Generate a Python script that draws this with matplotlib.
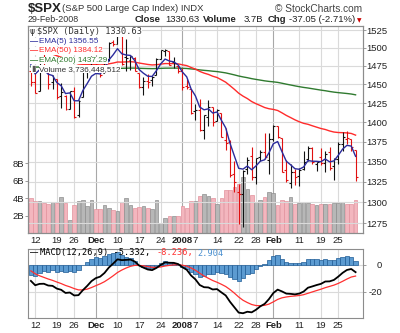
import numpy as np
import pandas as pd
import matplotlib
matplotlib.use("Agg")
import matplotlib.pyplot as plt
from matplotlib.ticker import FixedLocator, FixedFormatter, NullLocator

# daily bars, 9-Nov-2007 .. 29-Feb-2008
dates = ["2007-11-09", "2007-11-12", "2007-11-13", "2007-11-14", "2007-11-15", "2007-11-16",
         "2007-11-19", "2007-11-20", "2007-11-21", "2007-11-23", "2007-11-26", "2007-11-27",
         "2007-11-28", "2007-11-29", "2007-11-30", "2007-12-03", "2007-12-04", "2007-12-05",
         "2007-12-06", "2007-12-07", "2007-12-10", "2007-12-11", "2007-12-12", "2007-12-13",
         "2007-12-14", "2007-12-17", "2007-12-18", "2007-12-19", "2007-12-20", "2007-12-21",
         "2007-12-24", "2007-12-26", "2007-12-27", "2007-12-28", "2007-12-31", "2008-01-02",
         "2008-01-03", "2008-01-04", "2008-01-07", "2008-01-08", "2008-01-09", "2008-01-10",
         "2008-01-11", "2008-01-14", "2008-01-15", "2008-01-16", "2008-01-17", "2008-01-18",
         "2008-01-22", "2008-01-23", "2008-01-24", "2008-01-25", "2008-01-28", "2008-01-29",
         "2008-01-30", "2008-01-31", "2008-02-01", "2008-02-04", "2008-02-05", "2008-02-06",
         "2008-02-07", "2008-02-08", "2008-02-11", "2008-02-12", "2008-02-13", "2008-02-14",
         "2008-02-15", "2008-02-19", "2008-02-20", "2008-02-21", "2008-02-22", "2008-02-25",
         "2008-02-26", "2008-02-27", "2008-02-28", "2008-02-29"]
opens = [1467.6, 1453.7, 1441.3, 1483.4, 1468.0, 1453.1, 1456.7, 1434.5, 1434.7, 1417.6,
         1440.7, 1409.6, 1432.9, 1467.4, 1471.8, 1479.6, 1471.3, 1465.2, 1484.6, 1508.6,
         1505.1, 1516.7, 1487.6, 1483.3, 1486.2, 1465.1, 1445.9, 1454.7, 1456.4, 1463.2,
         1484.5, 1495.1, 1495.1, 1479.8, 1475.3, 1468.0, 1447.6, 1444.0, 1414.1, 1415.7,
         1390.3, 1406.8, 1419.9, 1401.6, 1411.9, 1377.4, 1374.8, 1333.9, 1312.9, 1310.4,
         1340.1, 1357.3, 1330.7, 1355.9, 1362.2, 1352.0, 1378.6, 1395.4, 1380.3, 1339.5,
         1324.0, 1336.9, 1331.9, 1340.6, 1353.1, 1367.3, 1347.5, 1355.9, 1348.4, 1362.2,
         1344.2, 1352.8, 1371.8, 1379.0, 1378.2, 1364.1]
highs = [1467.6, 1464.9, 1481.4, 1492.1, 1472.7, 1462.2, 1456.7, 1452.6, 1436.4, 1440.9,
         1446.1, 1429.5, 1471.6, 1473.8, 1488.9, 1481.2, 1471.3, 1486.1, 1508.0, 1510.6,
         1518.3, 1523.6, 1511.9, 1489.4, 1486.7, 1465.1, 1460.2, 1464.4, 1461.5, 1485.4,
         1497.6, 1498.9, 1495.1, 1488.0, 1475.8, 1471.8, 1456.8, 1444.0, 1423.9, 1430.3,
         1409.2, 1429.1, 1419.9, 1417.3, 1411.9, 1392.0, 1377.7, 1350.3, 1322.1, 1339.1,
         1355.2, 1368.6, 1354.0, 1364.9, 1385.9, 1385.6, 1396.0, 1395.4, 1380.3, 1352.0,
         1347.3, 1341.2, 1341.4, 1362.7, 1369.2, 1368.2, 1350.0, 1367.3, 1363.7, 1367.9,
         1354.3, 1374.4, 1387.3, 1388.3, 1378.2, 1364.1]
lows = [1448.5, 1438.5, 1441.3, 1466.5, 1443.5, 1443.9, 1430.4, 1419.3, 1415.6, 1417.6,
        1406.1, 1407.4, 1432.9, 1458.4, 1470.9, 1470.1, 1460.7, 1465.2, 1482.2, 1502.7,
        1504.9, 1475.7, 1468.2, 1469.2, 1467.8, 1445.4, 1435.7, 1445.3, 1447.5, 1463.2,
        1484.5, 1488.1, 1475.9, 1471.7, 1465.1, 1442.1, 1443.7, 1411.2, 1403.4, 1388.3,
        1378.7, 1395.3, 1394.8, 1401.6, 1380.6, 1364.3, 1330.7, 1312.5, 1274.3, 1270.1,
        1334.3, 1327.5, 1322.3, 1350.3, 1352.9, 1334.1, 1375.9, 1379.7, 1336.6, 1324.3,
        1316.8, 1321.1, 1320.3, 1339.9, 1350.8, 1347.3, 1338.1, 1345.1, 1336.8, 1339.9,
        1327.0, 1346.4, 1363.3, 1372.0, 1363.2, 1325.4]
closes = [1453.7, 1439.2, 1481.1, 1470.6, 1451.2, 1458.7, 1433.3, 1439.7, 1416.8, 1440.7,
          1407.2, 1428.2, 1469.0, 1469.7, 1481.1, 1472.4, 1462.8, 1485.0, 1507.3, 1504.7,
          1516.0, 1477.7, 1486.6, 1488.4, 1468.0, 1445.9, 1455.0, 1453.0, 1460.1, 1484.5,
          1496.5, 1497.7, 1476.3, 1478.5, 1468.4, 1447.2, 1447.1, 1411.6, 1416.2, 1390.2,
          1409.1, 1420.3, 1401.0, 1416.3, 1381.0, 1373.2, 1333.3, 1325.2, 1310.5, 1338.6,
          1352.1, 1330.6, 1354.0, 1362.3, 1355.8, 1378.6, 1395.4, 1380.8, 1336.6, 1326.5,
          1336.9, 1331.3, 1339.1, 1348.9, 1367.2, 1348.9, 1350.0, 1348.8, 1360.0, 1342.5,
          1353.1, 1371.8, 1381.3, 1380.0, 1367.7, 1330.6]
volumes = [4.0, 3.65, 3.65, 3.45, 3.3, 3.55, 3.45, 4.15, 3.45, 1.5,
           3.15, 3.65, 3.75, 3.1, 3.75, 2.8, 2.8, 3.2, 2.9, 2.65,
           2.5, 3.5, 4.0, 3.2, 2.9, 2.95, 3.1, 2.85, 2.8, 3.75,
           1.2, 1.7, 2.0, 2.0, 1.95, 3.1, 2.85, 3.65, 3.65, 4.25,
           4.5, 4.2, 4.0, 3.3, 3.95, 4.9, 4.9, 5.3, 5.6, 6.4,
           5.0, 4.4, 3.6, 3.8, 4.15, 4.7, 4.6, 3.2, 3.8, 3.7,
           4.1, 3.3, 3.4, 3.5, 3.4, 3.3, 3.2, 3.3, 3.3, 3.3,
           3.4, 3.45, 3.5, 3.3, 3.3, 3.74]  # billions

tick_dates = ["2007-11-12", "2007-11-19", "2007-11-26", "2007-12-03", "2007-12-10", "2007-12-17",
              "2007-12-24", "2008-01-02", "2008-01-07", "2008-01-14", "2008-01-22", "2008-01-28",
              "2008-02-01", "2008-02-11", "2008-02-19", "2008-02-25"]
tick_labels = ["12", "19", "26", "Dec", "10", "17", "24", "2008", "7", "14", "22", "28",
               "Feb", "11", "19", "25"]
month_labels = ["Dec", "2008", "Feb"]
price_ticks = [1275, 1300, 1325, 1350, 1375, 1400, 1425, 1450, 1475, 1500, 1525]
vol_ticks = [2, 4, 6, 8]
macd_ticks = [0, -20]

# indicator starting values (value before first bar)
ema5_seed, ema50_seed, ema200_seed = 1488.0, 1500.0, 1474.0
ema12_seed, ema26_seed, signal_seed = 1497.0, 1506.0, -2.5


def ema(values, span, seed):
    s = pd.Series([seed] + list(values))
    return s.ewm(span=span, adjust=False).mean().to_numpy()[1:]


def fx(px):
    return px / 400


def fy(py):
    return 1 - py / 333


n = len(closes)
x = np.arange(n)
o, h, l, c = map(np.array, (opens, highs, lows, closes))
prev = np.r_[o[0], c[:-1]]
up = c >= prev
bar_col = np.where(up, "#111111", "#e01010")

ema5 = ema(closes, 5, ema5_seed)
ema50 = ema(closes, 50, ema50_seed)
ema200 = ema(closes, 200, ema200_seed)
macd = ema(closes, 12, ema12_seed) - ema(closes, 26, ema26_seed)
signal = ema(macd, 9, signal_seed)
hist = macd - signal

tpos = [dates.index(d) for d in tick_dates]
xlim = (-0.55, 76.6)
grid_c, month_c, spine_c = "#dadada", "#a8a8a8", "#8c8c8c"
tickfont = dict(family="Liberation Sans", size=6.8)
txt_c = "#222222"


def style_labels(labels, bold=()):
    for t in labels:
        t.set_fontproperties(tickfont)
        t.set_color(txt_c)
        if t.get_text() in bold:
            t.set_fontweight("bold")


fig = plt.figure(figsize=(4, 3.33), dpi=100)
fig.patch.set_facecolor("white")

# ---- price / volume panel
ax_vol = fig.add_axes([fx(28.5), fy(233), fx(362.5) - fx(28.5), fy(26) - fy(233)])
ax = ax_vol.twinx()

for p, lab in zip(tpos, tick_labels):
    ax_vol.axvline(p, color=month_c if lab in month_labels else grid_c, lw=0.8, zorder=0)

ax_vol.bar(x, volumes, width=0.85, color=np.where(up, "#b7b7b7", "#f3b6be"),
           edgecolor=np.where(up, "#8e8e8e", "#e2929c"), linewidth=0.5, zorder=2)
ax_vol.set_ylim(0, 23.66)
ax_vol.set_xlim(*xlim)
ax_vol.yaxis.set_major_locator(FixedLocator(vol_ticks))
ax_vol.yaxis.set_major_formatter(FixedFormatter([f"{v}B" for v in vol_ticks]))
ax_vol.tick_params(axis="y", left=True, right=False, labelleft=True, length=2,
                   width=0.6, color=spine_c, pad=1)
style_labels(ax_vol.get_yticklabels())

ax.set_yscale("log")
ax.set_ylim(1263.5, 1530.7)
ax.set_xlim(*xlim)
for p in price_ticks:
    ax.axhline(p, color=grid_c, lw=0.8, zorder=0)
ax.yaxis.set_major_locator(FixedLocator(price_ticks))
ax.yaxis.set_major_formatter(FixedFormatter([str(p) for p in price_ticks]))
ax.yaxis.set_minor_locator(NullLocator())
ax.tick_params(axis="y", right=True, labelright=True, length=2, width=0.6,
               color=spine_c, pad=1)
style_labels(ax.get_yticklabels())

ax.plot(x, ema200, color="#2f7a2f", lw=1.0, zorder=3)
ax.plot(x, ema50, color="#ff2b2b", lw=1.0, zorder=3)
ax.vlines(x, l, h, colors=bar_col, lw=0.8, zorder=4)
ax.hlines(o, x - 0.45, x, colors=bar_col, lw=0.8, zorder=4)
ax.hlines(c, x, x + 0.45, colors=bar_col, lw=0.8, zorder=4)
ax.plot(x, ema5, color="#2b2b9c", lw=1.0, zorder=5)

ax_vol.set_xticks(tpos)
ax_vol.set_xticklabels(tick_labels)
ax_vol.tick_params(axis="x", length=0, pad=2.5)
style_labels(ax_vol.get_xticklabels(), month_labels)
ax.tick_params(axis="x", bottom=False, labelbottom=False)
for a in (ax, ax_vol):
    for s in a.spines.values():
        s.set_color(spine_c)
        s.set_linewidth(0.8)

# ---- MACD panel
ax_m = fig.add_axes([fx(28.5), fy(318), fx(362.5) - fx(28.5), fy(249) - fy(318)])
ax_m.set_xlim(*xlim)
ax_m.set_ylim(-39.26, 11.85)
for p, lab in zip(tpos, tick_labels):
    ax_m.axvline(p, color=month_c if lab in month_labels else grid_c, lw=0.8, zorder=0)
for v in macd_ticks:
    ax_m.axhline(v, color=grid_c, lw=0.8, zorder=0)
ax_m.bar(x, hist, width=1.0, color="#5c9bd1", edgecolor="#1f5c96", linewidth=0.5, zorder=2)
ax_m.plot(x, signal, color="#ff3030", lw=0.9, zorder=3)
ax_m.plot(x, macd, color="black", lw=1.3, zorder=4)
ax_m.yaxis.tick_right()
ax_m.yaxis.set_major_locator(FixedLocator(macd_ticks))
ax_m.yaxis.set_major_formatter(FixedFormatter([str(v) for v in macd_ticks]))
ax_m.tick_params(axis="y", length=2, width=0.6, color=spine_c, pad=12)
style_labels(ax_m.get_yticklabels())
for t in ax_m.get_yticklabels():
    t.set_horizontalalignment("right")
ax_m.set_xticks(tpos)
ax_m.set_xticklabels(tick_labels)
ax_m.tick_params(axis="x", length=0, pad=2.5)
style_labels(ax_m.get_xticklabels(), month_labels)
for s in ax_m.spines.values():
    s.set_color(spine_c)
    s.set_linewidth(0.8)

# ---- header
hf = "Liberation Sans"
fig.text(fx(28), fy(8.5), r"\$SPX", fontsize=9.5, fontweight="bold", family=hf,
         va="center", color="#222222")
fig.text(fx(62), fy(8.5), "(S&P 500 Large Cap Index) INDX", fontsize=6.8, family=hf,
         va="center", color="#333333")
fig.text(fx(362), fy(8.5), "© StockCharts.com", fontsize=7.3, family=hf, va="center",
         ha="right", color="#444444")
fig.text(fx(28), fy(20), "29-Feb-2008", fontsize=6.4, family=hf, va="center", color="#333333")
hdr = [("Close", "bold", 135), ("1330.63", "normal", 165), ("Volume", "bold", 203),
       ("3.7B", "normal", 244), ("Chg", "bold", 268), ("-37.05 (-2.71%)", "normal", 289)]
for txt, wt, px in hdr:
    fig.text(fx(px), fy(20), txt, fontsize=6.8, family=hf, fontweight=wt, va="center",
             color="#222222")
fig.text(fx(357), fy(20.5), "▼", fontsize=4.2, family="DejaVu Sans", va="center",
         color="#cc0000")

# ---- panel legends
bg = dict(facecolor="white", edgecolor="none", pad=0.3)
mono = dict(fontsize=6.2, family=["DejaVu Sans Mono", "DejaVu Sans"], va="center", zorder=10)
prop = dict(fontsize=5.9, family=["Liberation Sans", "DejaVu Sans"], va="center", zorder=10)
fig.text(fx(30), fy(31.7), "ψ", color="#333333", bbox=bg, **mono)
fig.text(fx(37), fy(31.7), "$SPX (Daily) 1330.63", color="#333333", bbox=bg, **mono)
legend_rows = [("EMA(5) 1356.55", "#2b2b9c", 41.7), ("EMA(50) 1384.12", "#ff2b2b", 50.8),
               ("EMA(200) 1437.29", "#2f7a2f", 60.5)]
for txt, col, py in legend_rows:
    fig.text(fx(30.5), fy(py), "—", color=col, fontweight="bold", bbox=bg, **prop)
    fig.text(fx(39), fy(py), txt, color=col, bbox=bg, **prop)
fig.text(fx(31), fy(69.3), "▮", color="#555555", bbox=bg, **prop)
fig.text(fx(39), fy(69.3), "Volume 3,736,448,512", color="#333333", bbox=bg, **prop)

fig.text(fx(30), fy(253), "—", color="black", fontweight="bold", **prop)
fig.text(fx(40), fy(253), "MACD(12,26,9) -5.332,", color="black", **mono)
fig.text(fx(157), fy(253), "-8.236,", color="#ff3030", **mono)
fig.text(fx(197), fy(253), "2.904", color="#4a90d0", **mono)

fig.savefig("out.png", dpi=100, facecolor="white")
